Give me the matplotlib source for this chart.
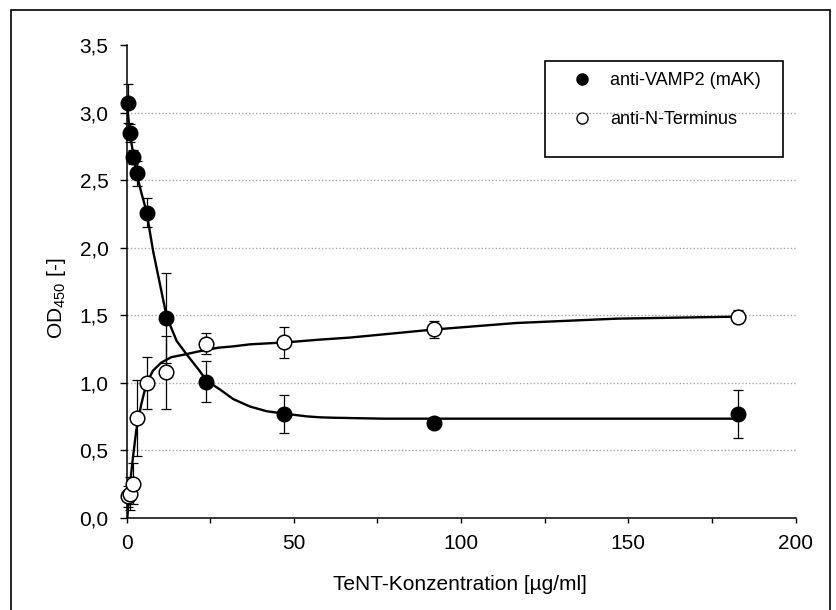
import matplotlib
matplotlib.use("Agg")
import matplotlib.pyplot as plt
from matplotlib.patches import Rectangle
from matplotlib.lines import Line2D

plt.rcParams['font.family'] = ['Liberation Sans', 'DejaVu Sans']

# TeNT concentration (ug/ml)
conc = [0.5, 1.0, 1.8, 3.2, 6.1, 11.9, 23.8, 47.0, 92.0, 182.7]

# anti-VAMP2 (mAK), filled circles
vamp2 = [3.07, 2.85, 2.67, 2.55, 2.26, 1.48, 1.01, 0.77, 0.70, 0.77]
vamp2_err = [0.145, 0.065, 0.05, 0.09, 0.11, 0.33, 0.155, 0.14, 0.0, 0.18]

# anti-N-Terminus, open circles
nterm = [0.16, 0.18, 0.255, 0.74, 1.00, 1.08, 1.29, 1.30, 1.395, 1.49]
nterm_err = [0.08, 0.12, 0.155, 0.28, 0.19, 0.27, 0.08, 0.115, 0.064, 0.05]

# fitted curves
fit_vamp2_x = [0, 0.5, 1.0, 1.5, 2.4, 3.4, 4.4, 5.3, 6.2, 7.1, 8.0, 9.0, 10.0, 12.0,
               15.0, 18.0, 21.5, 24.0, 28.0, 31.9, 36.9, 41.9, 47.9, 53.9, 57.8,
               61.8, 76.8, 96.7, 136.6, 182.7]
fit_vamp2_y = [3.10, 2.97, 2.86, 2.77, 2.64, 2.51, 2.41, 2.33, 2.24, 2.10, 1.97, 1.85,
               1.73, 1.49, 1.31, 1.21, 1.10, 1.015, 0.95, 0.88, 0.825, 0.79, 0.77,
               0.752, 0.745, 0.742, 0.735, 0.735, 0.735, 0.735]
fit_nterm_x = [0.24, 0.96, 1.94, 2.93, 4.4, 5.9, 7.9, 10.4, 13.4, 17.4, 22.0, 27.4,
               31.9, 36.9, 47.9, 57.8, 66.8, 92.0, 116.6, 146.5, 182.7]
fit_nterm_y = [0.0, 0.23, 0.45, 0.65, 0.84, 0.99, 1.09, 1.15, 1.19, 1.21, 1.235, 1.26,
               1.27, 1.285, 1.30, 1.32, 1.335, 1.395, 1.443, 1.475, 1.49]

xticks = [0, 50, 100, 150, 200]
xtick_labels = ["0", "50", "100", "150", "200"]
xminor = [25, 75, 125, 175]
yticks = [0.0, 0.5, 1.0, 1.5, 2.0, 2.5, 3.0, 3.5]
ytick_labels = ["0,0", "0,5", "1,0", "1,5", "2,0", "2,5", "3,0", "3,5"]

W, H = 836, 610
fig = plt.figure(figsize=(W / 100, H / 100), dpi=100)
ax = fig.add_axes([126.5 / W, 1 - 518 / H, 669 / W, 473 / H])

# dotted horizontal grid
ax.hlines(yticks[1:-1], 0, 200, colors='#a8a8a8', linestyles=(0, (1, 1.5)),
          linewidth=1.0, zorder=0)

ax.plot(fit_vamp2_x, fit_vamp2_y, color='black', lw=1.7, zorder=2)
ax.plot(fit_nterm_x, fit_nterm_y, color='black', lw=1.7, zorder=2)

ax.errorbar(conc, vamp2, yerr=vamp2_err, fmt='none', ecolor='black',
            elinewidth=0.9, capsize=3.5, capthick=0.9, zorder=3, clip_on=False)
ax.errorbar(conc, nterm, yerr=nterm_err, fmt='none', ecolor='black',
            elinewidth=0.9, capsize=3.5, capthick=0.9, zorder=3, clip_on=False)
ax.plot(conc, vamp2, 'o', ms=10.5, mfc='black', mec='black', zorder=4, clip_on=False)
ax.plot(conc, nterm, 'o', ms=10.5, mfc='white', mec='black', mew=1.1, zorder=4,
        clip_on=False)

ax.set_xlim(0, 200)
ax.set_ylim(0, 3.5)
ax.set_xticks(xticks)
ax.set_xticklabels(xtick_labels)
ax.set_xticks(xminor, minor=True)
ax.set_yticks(yticks)
ax.set_yticklabels(ytick_labels)
ax.tick_params(axis='y', direction='out', length=5, width=1, pad=8, labelsize=15)
ax.tick_params(axis='x', which='both', direction='out', length=3.6, width=1,
               pad=8, labelsize=15)
for s in ['top', 'right']:
    ax.spines[s].set_visible(False)
for s in ['left', 'bottom']:
    ax.spines[s].set_linewidth(1.1)

fig.text(460 / W, 1 - 584 / H, "TeNT-Konzentration [µg/ml]", fontsize=15,
         ha='center', va='center')
fig.text(57 / W, 1 - 298 / H, "OD$_{\\mathregular{450}}$ [-]", fontsize=15,
         rotation=90, ha='center', va='center')

# legend
handles = [Line2D([], [], ls='none', marker='o', ms=8, mfc='black', mec='black'),
           Line2D([], [], ls='none', marker='o', ms=8, mfc='white', mec='black', mew=1.0)]
fig.legend(handles, ["anti-VAMP2 (mAK)", "anti-N-Terminus"], loc='upper left',
           bbox_to_anchor=(572.5 / W, 1 - 72 / H), frameon=False, fontsize=13,
           handlelength=1.0, handletextpad=1.07, labelspacing=1.22,
           borderpad=0, borderaxespad=0)
fig.patches.append(Rectangle((545 / W, 1 - 157 / H), 238 / W, 96 / H,
                             transform=fig.transFigure, fill=False,
                             edgecolor='black', lw=1.2))
# outer frame
fig.patches.append(Rectangle((10.5 / W, -0.05), 819.5 / W, 1.05 - 9.6 / H,
                             transform=fig.transFigure, fill=False,
                             edgecolor='black', lw=1.2, clip_on=False))

fig.savefig("out.png", dpi=100)
